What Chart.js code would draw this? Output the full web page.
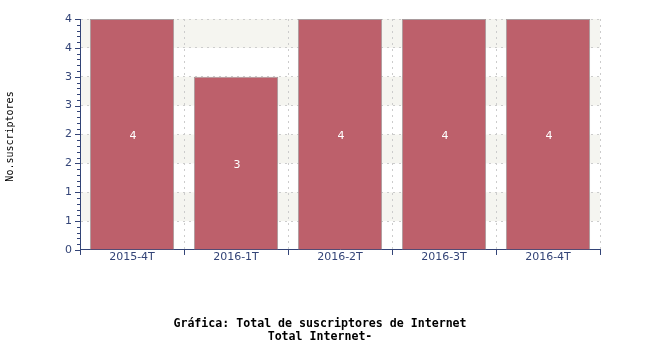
<!DOCTYPE html>
<html>
<head>
<meta charset="utf-8">
<script src="https://cdn.jsdelivr.net/npm/chart.js@4/dist/chart.umd.min.js"></script>
<style>
  html, body { margin: 0; padding: 0; background: #fff; }
</style>
</head>
<body>
<canvas id="grafico" width="650" height="350"></canvas>
<script>
const categorias = ['2015-4T', '2016-1T', '2016-2T', '2016-3T', '2016-4T'];
const suscriptores = [4, 3, 4, 4, 4];
const etiquetasY = ['0', '1', '1', '2', '2', '3', '3', '4', '4'];
const titulo = ['Gráfica: Total de suscriptores de Internet', 'Total Internet-'];
const tituloY = 'No.suscriptores';

const colorEje = '#334477';

function esMayor(v){
    return Math.abs(v * 2 - Math.round(v * 2)) < 1e-6;
}

// franjas de fondo alternadas, debajo de la rejilla
const franjas = {
    id: 'franjas',
    beforeDraw(chart){
        const ctx = chart.ctx;
        const a = chart.chartArea;
        const y = chart.scales.y;
        ctx.save();
        ctx.fillStyle = '#f5f5f0';
        for (let i = 0; i < etiquetasY.length - 1; i++) {
            if (i % 2 === 1) {
                const y1 = y.getPixelForValue((i + 1) / 2);
                const y0 = y.getPixelForValue(i / 2);
                ctx.fillRect(a.left, y1, a.right - a.left, y0 - y1);
            }
        }
        ctx.restore();
    }
};

// marcas del eje y (mayores y menores) y titulo del eje
const marcasY = {
    id: 'marcasY',
    afterDraw(chart){
        const ctx = chart.ctx;
        const y = chart.scales.y;
        const a = chart.chartArea;
        const x0 = a.left;
        ctx.save();
        ctx.strokeStyle = colorEje;
        ctx.lineWidth = 1;
        y.ticks.forEach(t => {
            const py = Math.round(y.getPixelForValue(t.value)) + 0.5;
            const largo = esMayor(t.value) ? 5 : 3;
            ctx.beginPath();
            ctx.moveTo(x0 - largo, py);
            ctx.lineTo(x0, py);
            ctx.stroke();
        });
        ctx.translate(10, (a.top + a.bottom) / 2 + 2);
        ctx.rotate(-Math.PI / 2);
        ctx.fillStyle = '#000';
        ctx.font = '10px "DejaVu Sans Mono"';
        ctx.textAlign = 'center';
        ctx.textBaseline = 'middle';
        ctx.fillText(tituloY, 0, 0);
        ctx.restore();
    }
};

// valores dentro de las barras
const valores = {
    id: 'valores',
    afterDatasetsDraw(chart){
        const ctx = chart.ctx;
        const meta = chart.getDatasetMeta(0);
        const y = chart.scales.y;
        ctx.save();
        ctx.fillStyle = '#ffffff';
        ctx.font = '11px "DejaVu Sans"';
        ctx.textAlign = 'center';
        ctx.textBaseline = 'middle';
        meta.data.forEach((bar, i) => {
            const v = suscriptores[i];
            ctx.fillText(String(v), bar.x + 1, y.getPixelForValue(v / 2) + 2);
        });
        ctx.restore();
    }
};

new Chart('grafico', {
    type: 'bar',
    data: {
        labels: categorias,
        datasets: [{
            data: suscriptores,
            backgroundColor: '#bd606b',
            borderColor: '#a89a9c',
            borderWidth: 1,
            barPercentage: 0.81,
            categoryPercentage: 1
        }]
    },
    options: {
        responsive: false,
        animation: false,
        layout: { padding: { top: 19, right: 50, left: 40, bottom: 0 } },
        plugins: {
            legend: { display: false },
            tooltip: { enabled: false },
            title: {
                display: true,
                position: 'bottom',
                text: titulo,
                color: '#000',
                font: { family: 'DejaVu Sans Mono', size: 11.6, weight: 'bold', lineHeight: 1.1 },
                padding: { top: 17.5, bottom: 7 }
            }
        },
        scales: {
            x: {
                grid: {
                    offset: true,
                    color: '#cccccc',
                    tickColor: colorEje,
                    tickBorderDash: [],
                    tickLength: 5
                },
                border: { color: colorEje, dash: [2, 4] },
                ticks: {
                    color: colorEje,
                    font: { family: 'DejaVu Sans', size: 11 },
                    padding: -4
                },
                afterFit(scale){ scale.height = 50; }
            },
            y: {
                min: 0,
                max: 4,
                grid: {
                    drawTicks: false,
                    color: ctx => esMayor(ctx.tick.value) ? '#cccccc' : 'rgba(0,0,0,0)'
                },
                border: { color: colorEje, dash: [2, 4] },
                ticks: {
                    stepSize: 0.1,
                    autoSkip: false,
                    padding: 8,
                    color: colorEje,
                    font: { family: 'DejaVu Sans', size: 11 },
                    callback: v => esMayor(v) ? etiquetasY[Math.round(v * 2)] : ''
                },
                afterFit(scale){ scale.width = 40; }
            }
        }
    },
    plugins: [franjas, marcasY, valores]
});
</script>
</body>
</html>
